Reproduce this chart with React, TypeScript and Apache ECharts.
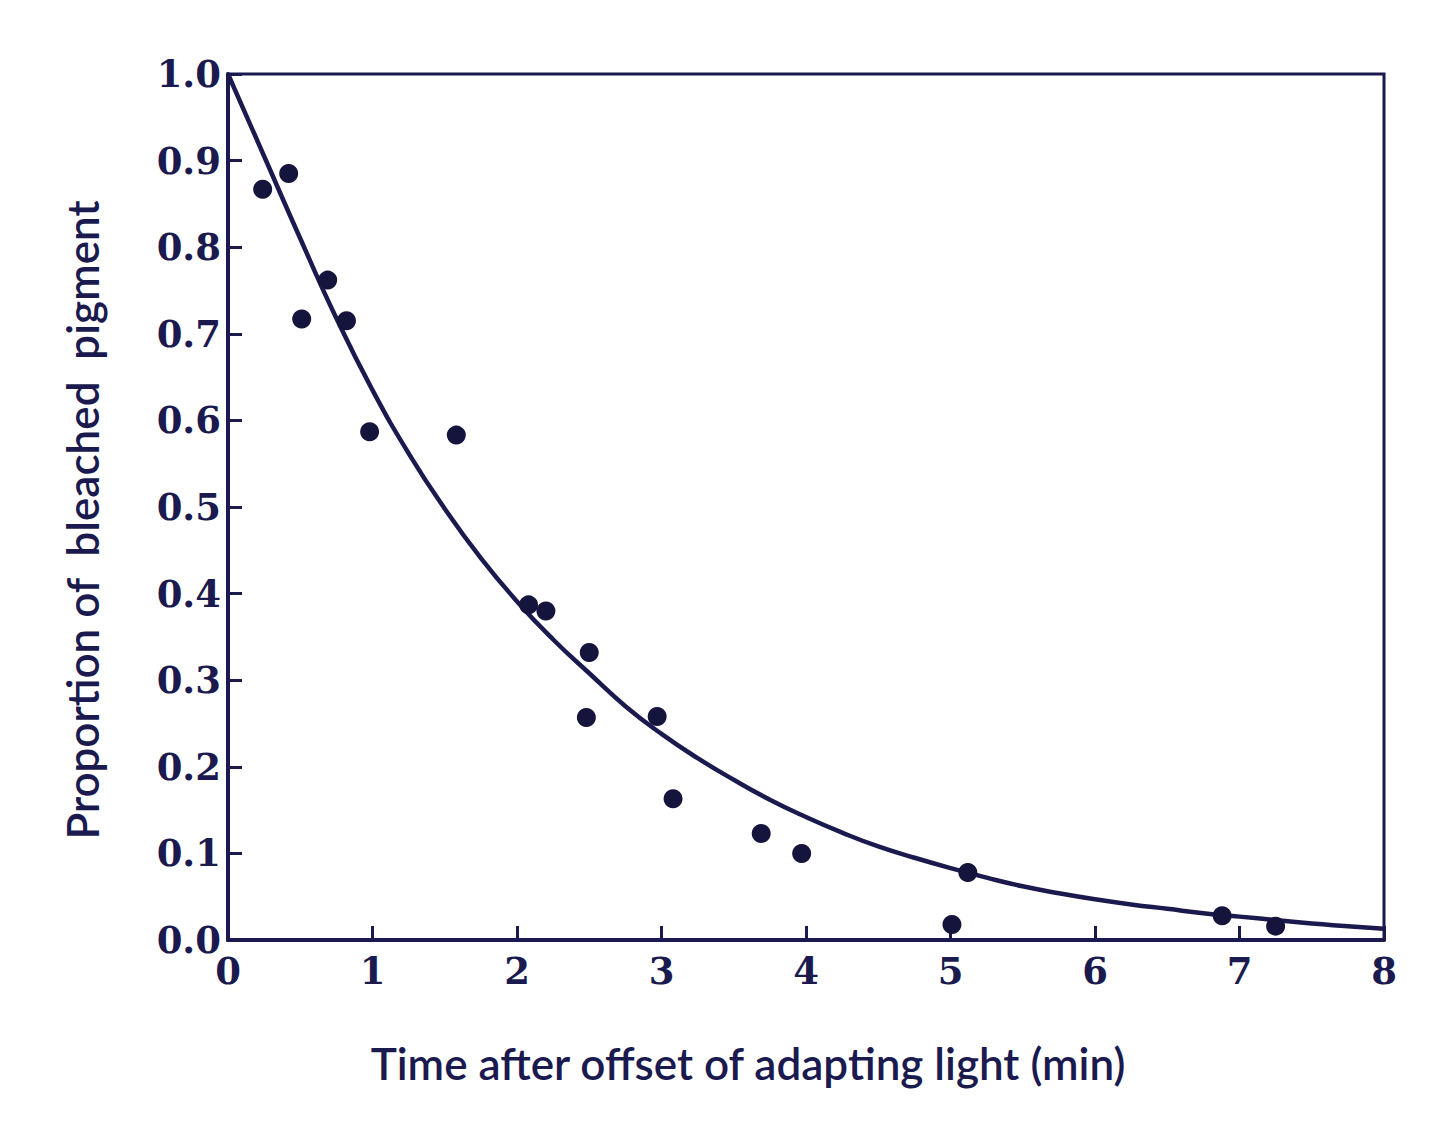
import React, { useEffect, useRef } from "react";
import * as echarts from "echarts";

// Measured fraction of bleached photopigment after the adapting light is switched off
const pointTimes = [0.24, 0.42, 0.51, 0.69, 0.82, 0.98, 1.58, 2.08, 2.2, 2.5, 2.48, 2.97, 3.08, 3.69, 3.97, 5.01, 5.12, 6.88, 7.25];
const pointValues = [0.867, 0.885, 0.717, 0.762, 0.715, 0.587, 0.583, 0.387, 0.38, 0.332, 0.257, 0.258, 0.163, 0.123, 0.1, 0.018, 0.078, 0.028, 0.016];

// Fitted regeneration curve, sampled every quarter minute
const curveTimes = [
  0, 0.25, 0.5, 0.75, 1, 1.25, 1.5, 1.75, 2, 2.25, 2.5, 2.75, 3, 3.25, 3.5, 3.75,
  4, 4.25, 4.5, 4.75, 5, 5.25, 5.5, 5.75, 6, 6.25, 6.5, 6.75, 7, 7.25, 7.5, 7.75, 8,
];
const curveValues = [
  1.0, 0.905, 0.81, 0.718, 0.635, 0.562, 0.498, 0.441, 0.391, 0.347, 0.308, 0.27, 0.238, 0.21, 0.185, 0.162,
  0.142, 0.124, 0.108, 0.095, 0.083, 0.072, 0.062, 0.054, 0.047, 0.041, 0.036, 0.031, 0.027, 0.023, 0.019, 0.016, 0.013,
];

const xTicks = { min: 0, max: 8, step: 1 };
const yTicks = { min: 0, max: 1, step: 0.1 };

const INK = "#1b1a4f";

export default function App() {
  const ref = useRef<HTMLDivElement>(null);

  useEffect(() => {
    if (!ref.current) return;
    const chart = echarts.init(ref.current, undefined, { renderer: "svg" });
    const pts = pointTimes.map((t, i) => [t, pointValues[i]]);
    const curve = curveTimes.map((t, i) => [t, curveValues[i]]);
    const tickFont = {
      color: INK,
      fontFamily: "DejaVu Serif",
      fontWeight: "bold" as const,
      fontSize: 37,
    };
    chart.setOption({
      animation: false,
      backgroundColor: "#ffffff",
      grid: {
        left: 228,
        top: 74,
        width: 1156,
        height: 866,
        show: true,
        borderColor: INK,
        borderWidth: 3,
        backgroundColor: "transparent",
      },
      xAxis: {
        type: "value",
        min: xTicks.min,
        max: xTicks.max,
        interval: xTicks.step,
        axisLine: { show: true, lineStyle: { color: INK, width: 4 } },
        axisTick: { show: true, inside: true, length: 14, lineStyle: { color: INK, width: 3 } },
        splitLine: { show: false },
        axisLabel: { ...tickFont, margin: 12 },
      },
      yAxis: {
        type: "value",
        min: yTicks.min,
        max: yTicks.max,
        interval: yTicks.step,
        axisLine: { show: true, lineStyle: { color: INK, width: 4 } },
        axisTick: { show: true, inside: true, length: 14, lineStyle: { color: INK, width: 3 } },
        splitLine: { show: false },
        axisLabel: {
          ...tickFont,
          margin: 7,
          formatter: (v: number) => v.toFixed(1),
        },
      },
      graphic: [
        {
          type: "text",
          x: 748,
          y: 1063,
          style: {
            text: "Time after offset of adapting light (min)",
            fill: INK,
            font: "600 44px Lato",
            align: "center",
            verticalAlign: "middle",
          },
        },
        {
          type: "text",
          x: 82,
          y: 520,
          rotation: Math.PI / 2,
          style: {
            text: "Proportion of  bleached  pigment",
            fill: INK,
            font: "600 44px Lato",
            align: "center",
            verticalAlign: "middle",
          },
        },
      ],
      series: [
        {
          type: "line",
          data: curve,
          smooth: 0.5,
          showSymbol: false,
          lineStyle: { color: INK, width: 4.5 },
          z: 2,
        },
        {
          type: "scatter",
          data: pts,
          symbol: "circle",
          symbolSize: 19,
          itemStyle: { color: "#15143d", opacity: 1 },
          z: 3,
        },
      ],
    });
    return () => chart.dispose();
  }, []);

  return (
    <div
      ref={ref}
      style={{ position: "fixed", left: 0, top: 0, width: 1440, height: 1128, background: "#fff" }}
    />
  );
}
